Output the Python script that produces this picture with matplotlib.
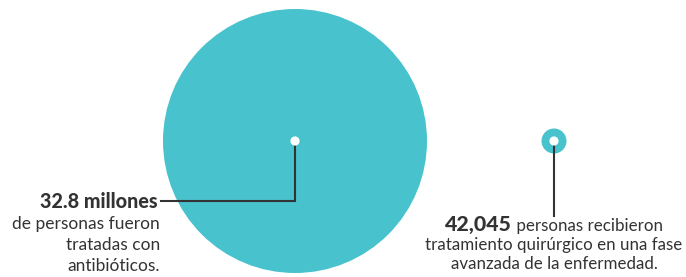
import matplotlib
matplotlib.use("Agg")
import matplotlib.pyplot as plt
from matplotlib.patches import Circle
import numpy as np

# Data
values = [32.8e6, 42045]
value_labels = ["32.8 millones", "42,045"]
left_desc = ["de personas fueron", "tratadas con", "antibióticos."]
right_first_rest = " personas recibieron"
right_desc = ["tratamiento quirúrgico en una fase", "avanzada de la enfermedad."]

TEAL = "#48C2CC"
INK = "#333333"
FONT = "Lato"

W, H = 686, 277
fig = plt.figure(figsize=(W / 100, H / 100), dpi=100)
ax = fig.add_axes([0, 0, 1, 1])
ax.set_xlim(0, W)
ax.set_ylim(H, 0)
ax.set_aspect("equal")
ax.axis("off")
fig.canvas.draw()
renderer = fig.canvas.get_renderer()


def fit_size(s, target_px, weight="normal", base=14.0):
    t = ax.text(0, 0, s, fontsize=base, fontweight=weight, family=FONT)
    w = t.get_window_extent(renderer).width
    t.remove()
    return base * target_px / w


# circle sizes by area
R_max = 132
radii = [np.sqrt(v / max(values)) * R_max for v in values]
r_small = max(radii[1], 12.5)
centers = [(295, 141), (554, 141)]

ax.add_patch(Circle(centers[0], radii[0], color=TEAL, lw=0, zorder=1))
ax.add_patch(Circle(centers[1], r_small, color=TEAL, lw=0, zorder=1))
for c in centers:
    ax.add_patch(Circle(c, 4.6, color="white", lw=0, zorder=4))

# leader lines
ax.plot([295, 295, 161], [145, 201, 201], color=INK, lw=1.5, zorder=3,
        solid_joinstyle="miter")
ax.plot([554, 554], [145, 216], color=INK, lw=1.5, zorder=3)

# left text block
fs_lb = fit_size(value_labels[0], 118, "black")
ax.text(158, 208, value_labels[0], ha="right", va="baseline", fontsize=fs_lb,
        fontweight="black", family=FONT, color=INK)
fs_l = fit_size(left_desc[0], 148)
for i, s in enumerate(left_desc):
    ax.text(160, 229 + 21 * i, s, ha="right", va="baseline", fontsize=fs_l,
            family=FONT, color=INK)

# right text block, first line mixed weight, centered at x=554
fs_r = fit_size(right_desc[0], 257)
fs_rb = fit_size(value_labels[1], 67, "black")
t1 = ax.text(0, 231, value_labels[1], ha="left", va="baseline", fontsize=fs_rb,
             fontweight="black", family=FONT, color=INK)
t2 = ax.text(0, 231, right_first_rest, ha="left", va="baseline", fontsize=fs_r,
             family=FONT, color=INK)
w1 = t1.get_window_extent(renderer).width
w2 = t2.get_window_extent(renderer).width
start = 554 - (w1 + w2) / 2
t1.set_x(start)
t2.set_x(start + w1)
for i, s in enumerate(right_desc):
    ax.text(554, 250 + 19 * i, s, ha="center", va="baseline", fontsize=fs_r,
            family=FONT, color=INK)

fig.savefig("out.png", dpi=100)
